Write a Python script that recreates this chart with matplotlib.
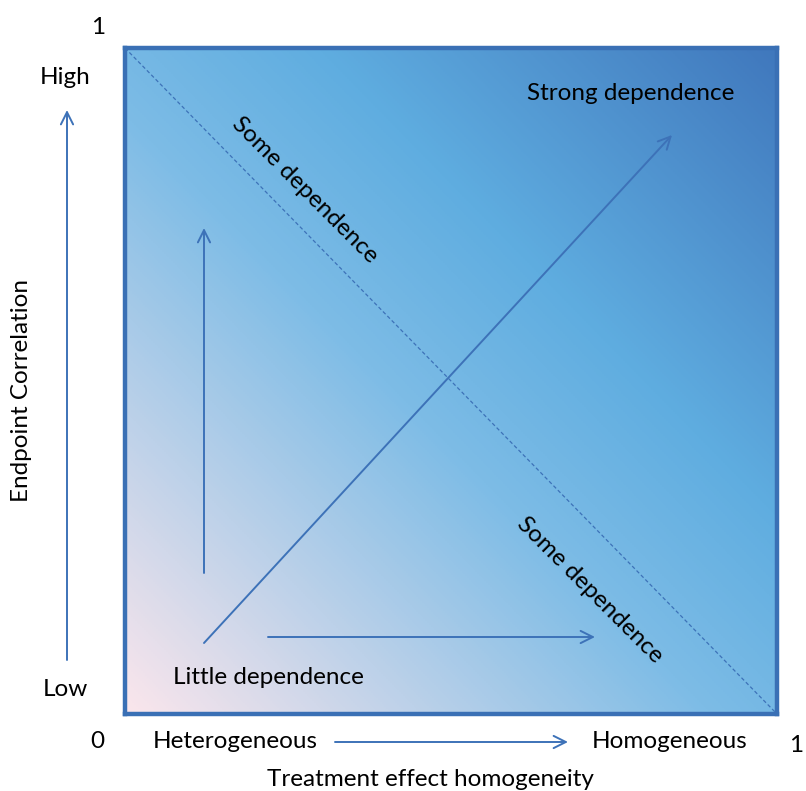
import numpy as np
import matplotlib.pyplot as plt
from matplotlib.colors import LinearSegmentedColormap

# conceptual diagram: labels only
x_labels = ["Heterogeneous", "Homogeneous"]
y_labels = ["Low", "High"]
axis_ticks = ["0", "1"]
x_title = "Treatment effect homogeneity"
y_title = "Endpoint Correlation"
corner_labels = ["Little dependence", "Strong dependence"]
diag_label = "Some dependence"

plt.rcParams['font.family'] = ['Lato', 'DejaVu Sans']
blue = '#3d72b8'

W, H = 806, 791
fig = plt.figure(figsize=(W / 100, H / 100), dpi=100)
# box in pixel coordinates: left 125, right 777, top 48, bottom 714
L, R, T, B = 125, 777, 48, 714
ax = fig.add_axes([L / W, 1 - B / H, (R - L) / W, (B - T) / H])
ax.set_xlim(0, 1)
ax.set_ylim(0, 1)
ax.set_xticks([])
ax.set_yticks([])
for s in ax.spines.values():
    s.set_color('#3a70b5')
    s.set_linewidth(3.2)

# diagonal gradient fill
cmap = LinearSegmentedColormap.from_list(
    'grad', [(0.0, '#fbe6ec'), (0.45, '#7dbce6'), (0.65, '#5fade0'), (1.0, '#4078bd')])
gx, gy = np.meshgrid(np.linspace(0, 1, 300), np.linspace(0, 1, 300))
ax.imshow((gx + gy) / 2, cmap=cmap, origin='lower', extent=[0, 1, 0, 1],
          aspect='auto', vmin=0, vmax=1, zorder=0)

# dashed anti-diagonal
ax.plot([0.0, 1.0], [1.0, 0.0], color=blue, lw=0.9, ls=(0, (3, 2)), zorder=2)


def px(x, y):
    return ((x - L) / (R - L), (B - y) / (B - T))


def arrow(p0, p1):
    ax.annotate('', xy=px(*p1), xytext=px(*p0), xycoords='axes fraction',
                annotation_clip=False,
                arrowprops=dict(arrowstyle='->', color=blue, lw=1.4,
                                mutation_scale=22, shrinkA=0, shrinkB=0))


# inner arrows
arrow((204, 573), (204, 228))
arrow((268, 637), (595, 637))
arrow((204, 643), (672, 135))
# outer arrows
arrow((67, 660), (67, 110))
arrow((335, 742), (568, 742))

fs = 17.5


def label(x, y, s, **kw):
    ax.text(*px(x, y), s, transform=ax.transAxes, fontsize=fs, ha='center',
            va='center', color='black', clip_on=False, **kw)


label(98, 27, axis_ticks[1])
label(97, 741, axis_ticks[0])
label(796, 745, axis_ticks[1])
label(65, 77, y_labels[1])
label(65, 689, y_labels[0])
label(235, 741, x_labels[0])
label(670, 741, x_labels[1])
label(430, 779, x_title)
label(22, 390, y_title, rotation=90)
label(268, 678, corner_labels[0])
label(631, 93, corner_labels[1])
label(305, 190, diag_label, rotation=-45, rotation_mode='anchor')
label(590, 590, diag_label, rotation=-45, rotation_mode='anchor')

fig.savefig('out.png', dpi=100)
